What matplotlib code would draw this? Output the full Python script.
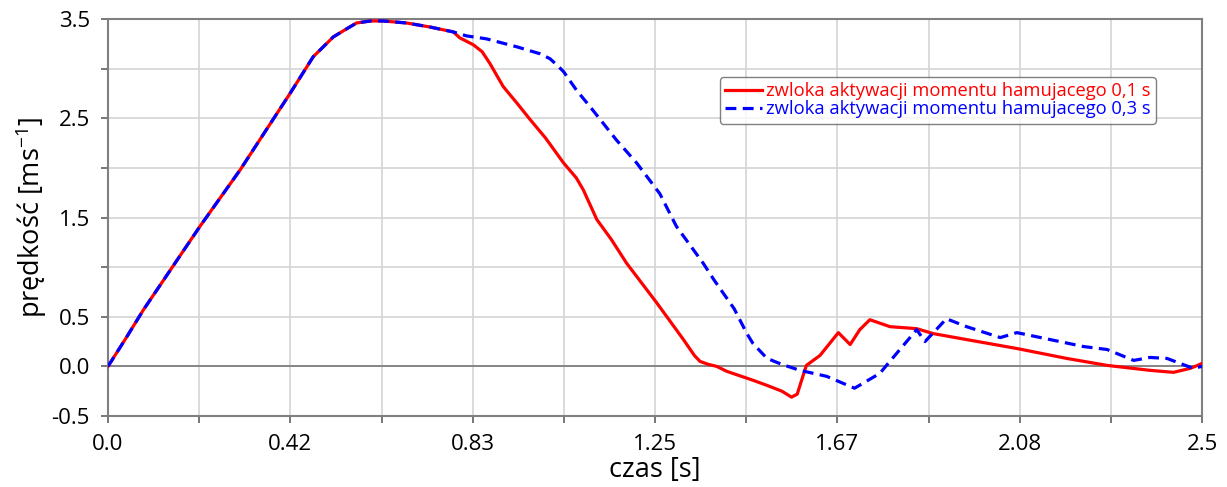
import numpy as np
import matplotlib.pyplot as plt
from matplotlib.ticker import FixedLocator, FixedFormatter

# czas [s] i prędkość [m/s] - zwłoka 0,1 s
t_01 = [0.0, 0.039, 0.081, 0.210, 0.302, 0.416, 0.469, 0.515, 0.545, 0.568, 0.600, 0.629,
        0.682, 0.735, 0.789, 0.804, 0.835, 0.855, 0.873, 0.903, 0.935, 0.964, 1.000, 1.041,
        1.070, 1.086, 1.117, 1.150, 1.185, 1.254, 1.315, 1.340, 1.353, 1.372, 1.391, 1.414,
        1.474, 1.505, 1.540, 1.562, 1.575, 1.585, 1.596, 1.627, 1.669, 1.696, 1.718, 1.741,
        1.787, 1.848, 1.886, 1.962, 2.077, 2.191, 2.283, 2.381, 2.435, 2.473, 2.49, 2.5]
v_01 = [0.0, 0.27, 0.57, 1.41, 1.98, 2.75, 3.12, 3.32, 3.40, 3.46, 3.48, 3.48,
        3.46, 3.42, 3.37, 3.31, 3.24, 3.17, 3.05, 2.82, 2.65, 2.49, 2.30, 2.05,
        1.90, 1.78, 1.48, 1.28, 1.04, 0.64, 0.27, 0.11, 0.05, 0.02, 0.0, -0.05,
        -0.14, -0.19, -0.25, -0.31, -0.28, -0.14, 0.01, 0.11, 0.34, 0.22, 0.37, 0.47,
        0.40, 0.38, 0.33, 0.27, 0.18, 0.08, 0.01, -0.04, -0.06, -0.02, 0.01, 0.03]

# zwłoka 0,3 s
t_03 = [0.0, 0.039, 0.081, 0.210, 0.302, 0.416, 0.469, 0.515, 0.545, 0.568, 0.600, 0.629,
        0.682, 0.735, 0.789, 0.819, 0.865, 0.934, 0.987, 1.010, 1.025, 1.041, 1.071, 1.101,
        1.162, 1.208, 1.261, 1.299, 1.360, 1.385, 1.431, 1.460, 1.474, 1.506, 1.540, 1.581,
        1.642, 1.706, 1.764, 1.779, 1.848, 1.867, 1.916, 1.962, 2.039, 2.077, 2.153,
        2.229, 2.283, 2.344, 2.381, 2.42, 2.48, 2.5]
v_03 = [0.0, 0.27, 0.57, 1.41, 1.98, 2.75, 3.12, 3.32, 3.40, 3.46, 3.48, 3.48,
        3.46, 3.42, 3.37, 3.33, 3.30, 3.22, 3.15, 3.10, 3.04, 2.97, 2.78, 2.62,
        2.28, 2.05, 1.74, 1.41, 1.04, 0.87, 0.58, 0.33, 0.23, 0.08, 0.02, -0.04,
        -0.10, -0.22, -0.07, 0.01, 0.37, 0.25, 0.48, 0.40, 0.29, 0.34, 0.27,
        0.20, 0.17, 0.06, 0.09, 0.08, -0.02, 0.0]

x_ticks = [i * 2.5 / 12 for i in range(13)]
x_labels = ['0.0', '', '0.42', '', '0.83', '', '1.25', '', '1.67', '', '2.08', '', '2.5']
y_ticks = [-0.5, 0.0, 0.5, 1.0, 1.5, 2.0, 2.5, 3.0, 3.5]
y_labels = ['-0.5', '0.0', '0.5', '', '1.5', '', '2.5', '', '3.5']

plt.rcParams['font.family'] = ['Open Sans', 'DejaVu Sans']

fig = plt.figure(figsize=(12.27, 4.87), dpi=100)
ax = fig.add_axes([108 / 1227, 1 - 416 / 487, 1094 / 1227, 397 / 487])

ax.plot(t_01, v_01, color='#ff0000', lw=2.3, label='zwloka aktywacji momentu hamujacego 0,1 s', zorder=3)
ax.plot(t_03, v_03, color='#0000ff', lw=2.3, ls=(0, (3.4, 2.0)),
        label='zwloka aktywacji momentu hamujacego 0,3 s', zorder=4)

ax.axhline(0, color='#808080', lw=1.3, zorder=2)

ax.set_xlim(0, 2.5)
ax.set_ylim(-0.5, 3.5)
ax.xaxis.set_major_locator(FixedLocator(x_ticks))
ax.xaxis.set_major_formatter(FixedFormatter(x_labels))
ax.yaxis.set_major_locator(FixedLocator(y_ticks))
ax.yaxis.set_major_formatter(FixedFormatter(y_labels))
ax.grid(True, color='#d4d4d4', lw=1.2, zorder=0)
ax.set_axisbelow(True)

for side in ['left', 'bottom', 'right', 'top']:
    ax.spines[side].set_color('#808080')
    ax.spines[side].set_linewidth(1.5)
ax.tick_params(axis='both', direction='out', length=5, width=1.2, color='#606060',
               labelsize=16, labelcolor='black', pad=8)

ax.set_xlabel('czas [s]', fontsize=19.5, labelpad=1)
ax.set_ylabel('prędkość [ms$^{\\mathregular{-1}}$]', fontsize=19.5, labelpad=2)

leg = ax.legend(loc='upper right', bbox_to_anchor=(0.966, 0.877), fontsize=13.2,
                handlelength=2.0, handletextpad=0.2, borderpad=0.3,
                labelspacing=0.0, frameon=True, fancybox=True)
leg.get_frame().set_edgecolor('#606060')
leg.get_frame().set_linewidth(1.0)
for txt, line in zip(leg.get_texts(), leg.get_lines()):
    txt.set_color(line.get_color())

fig.savefig('out.png', dpi=100)
